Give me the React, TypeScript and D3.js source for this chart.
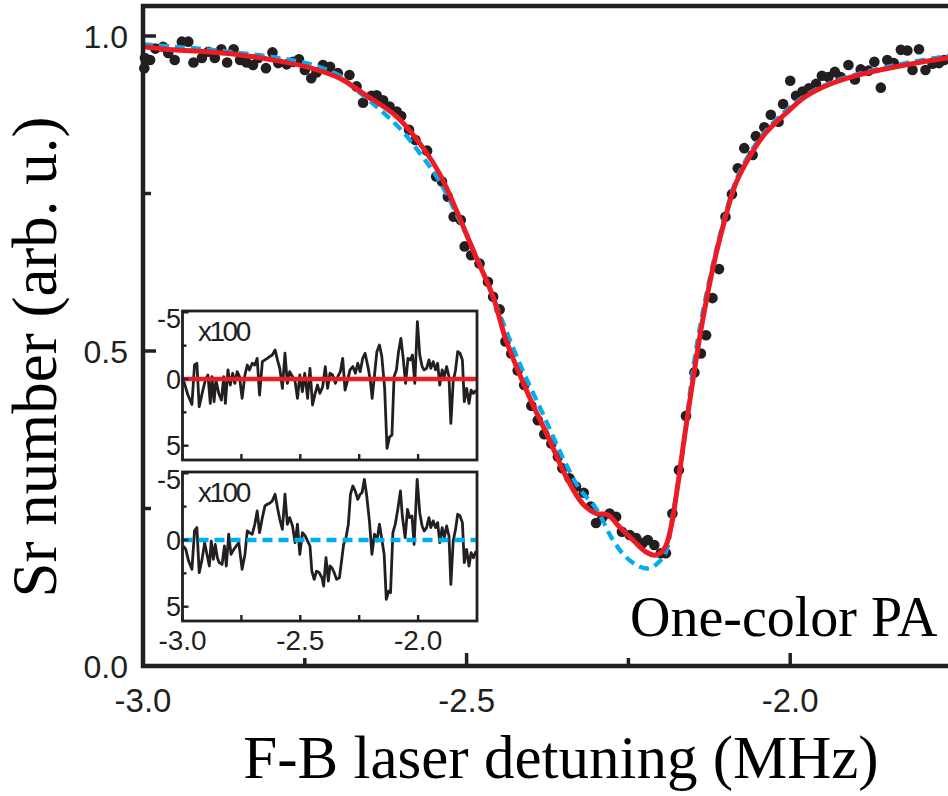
import React from 'react';
import * as d3 from 'd3';

// Measured Sr number vs F-B laser detuning (MHz)
const measured: [number, number][] = [
  [-2.997, 0.965], [-2.998, 0.949], [-2.989, 0.962], [-2.981, 0.98], [-2.969, 0.983], [-2.961, 0.973],
  [-2.951, 0.962], [-2.94, 0.991], [-2.93, 0.991], [-2.922, 0.958], [-2.909, 0.965], [-2.899, 0.975],
  [-2.889, 0.965], [-2.879, 0.979], [-2.87, 0.958], [-2.86, 0.979], [-2.85, 0.962], [-2.84, 0.958],
  [-2.83, 0.954], [-2.822, 0.965], [-2.81, 0.949], [-2.8, 0.974], [-2.791, 0.957], [-2.778, 0.955],
  [-2.768, 0.959], [-2.759, 0.963], [-2.75, 0.946], [-2.74, 0.933], [-2.732, 0.942], [-2.722, 0.954],
  [-2.711, 0.951], [-2.699, 0.941], [-2.681, 0.938], [-2.67, 0.92], [-2.66, 0.894], [-2.647, 0.905],
  [-2.639, 0.906], [-2.629, 0.898], [-2.619, 0.888], [-2.608, 0.88], [-2.601, 0.873], [-2.589, 0.851],
  [-2.579, 0.835], [-2.561, 0.818], [-2.547, 0.777], [-2.538, 0.769], [-2.529, 0.745], [-2.52, 0.713],
  [-2.509, 0.708], [-2.503, 0.666], [-2.493, 0.652], [-2.48, 0.639], [-2.467, 0.61], [-2.459, 0.586],
  [-2.449, 0.566], [-2.44, 0.515], [-2.431, 0.496], [-2.421, 0.469], [-2.411, 0.446], [-2.4, 0.413],
  [-2.39, 0.39], [-2.38, 0.368], [-2.369, 0.353], [-2.359, 0.332], [-2.352, 0.314], [-2.341, 0.298],
  [-2.331, 0.285], [-2.319, 0.275], [-2.308, 0.253], [-2.3, 0.227], [-2.29, 0.236], [-2.279, 0.242],
  [-2.269, 0.237], [-2.26, 0.213], [-2.248, 0.208], [-2.238, 0.203], [-2.228, 0.195], [-2.22, 0.2],
  [-2.21, 0.192], [-2.2, 0.179], [-2.192, 0.179], [-2.182, 0.242], [-2.172, 0.311], [-2.161, 0.397],
  [-2.148, 0.466], [-2.138, 0.496], [-2.13, 0.525], [-2.12, 0.584], [-2.11, 0.63], [-2.1, 0.713],
  [-2.09, 0.749], [-2.081, 0.79], [-2.071, 0.822], [-2.058, 0.811], [-2.053, 0.841], [-2.04, 0.855],
  [-2.03, 0.875], [-2.018, 0.864], [-2.011, 0.892], [-2.0, 0.929], [-1.991, 0.905], [-1.981, 0.912],
  [-1.971, 0.917], [-1.96, 0.924], [-1.951, 0.937], [-1.941, 0.935], [-1.931, 0.943], [-1.922, 0.935],
  [-1.91, 0.954], [-1.9, 0.931], [-1.891, 0.947], [-1.879, 0.945], [-1.87, 0.959], [-1.86, 0.918],
  [-1.85, 0.962], [-1.84, 0.957], [-1.829, 0.978], [-1.819, 0.977], [-1.811, 0.946], [-1.801, 0.979],
  [-1.791, 0.946], [-1.78, 0.956], [-1.77, 0.957], [-1.762, 0.962],
];

// Red solid fit
const fitRed: [number, number][] = [
  [-3.0, 0.983], [-2.953, 0.978], [-2.902, 0.975], [-2.85, 0.97], [-2.799, 0.962], [-2.747, 0.951],
  [-2.696, 0.933], [-2.66, 0.909], [-2.608, 0.872], [-2.567, 0.822], [-2.542, 0.782], [-2.516, 0.724],
  [-2.49, 0.66], [-2.459, 0.586], [-2.439, 0.517], [-2.403, 0.427], [-2.372, 0.359], [-2.346, 0.3],
  [-2.321, 0.258], [-2.3, 0.242], [-2.282, 0.24], [-2.264, 0.221], [-2.243, 0.2], [-2.223, 0.181],
  [-2.207, 0.176], [-2.194, 0.187], [-2.184, 0.221], [-2.174, 0.285], [-2.164, 0.359], [-2.151, 0.449],
  [-2.138, 0.533], [-2.12, 0.629], [-2.104, 0.697], [-2.084, 0.766], [-2.063, 0.808], [-2.038, 0.846],
  [-2.007, 0.877], [-1.976, 0.904], [-1.935, 0.925], [-1.883, 0.941], [-1.822, 0.954], [-1.758, 0.965],
  [-1.75, 0.966],
];

// Blue dashed fit
const fitBlue: [number, number][] = [
  [-3.0, 0.987], [-2.953, 0.983], [-2.902, 0.979], [-2.85, 0.973], [-2.789, 0.965], [-2.737, 0.954],
  [-2.696, 0.937], [-2.678, 0.921], [-2.637, 0.886], [-2.601, 0.851], [-2.57, 0.811], [-2.542, 0.77],
  [-2.516, 0.718], [-2.49, 0.662], [-2.475, 0.627], [-2.459, 0.585], [-2.418, 0.48], [-2.382, 0.4],
  [-2.351, 0.33], [-2.326, 0.282], [-2.3, 0.25], [-2.274, 0.2], [-2.254, 0.173], [-2.233, 0.158],
  [-2.218, 0.155], [-2.205, 0.163], [-2.192, 0.181], [-2.182, 0.237], [-2.171, 0.306], [-2.161, 0.38],
  [-2.151, 0.465], [-2.138, 0.546], [-2.12, 0.635], [-2.104, 0.702], [-2.084, 0.77], [-2.063, 0.813],
  [-2.038, 0.849], [-2.007, 0.881], [-1.976, 0.906], [-1.935, 0.927], [-1.883, 0.943], [-1.822, 0.957],
  [-1.758, 0.968], [-1.75, 0.969],
];

// Residuals x100 (upper inset, red fit)
const residualRed: [number, number][] = [
  [-2.996, 0.08], [-2.977, 1.2], [-2.96, 1.9], [-2.949, -1.05], [-2.939, -1.18], [-2.929, 2.08],
  [-2.915, 0.95], [-2.903, 0.08], [-2.892, -0.3], [-2.882, 1.83], [-2.875, -0.18], [-2.866, 1.7],
  [-2.858, 0.08], [-2.846, 1.08], [-2.835, 1.58], [-2.825, -0.18], [-2.818, 1.83], [-2.807, -0.68],
  [-2.797, 0.45], [-2.787, -0.43], [-2.778, 0.33], [-2.768, -0.55], [-2.758, -0.18], [-2.747, 1.45],
  [-2.735, -0.3], [-2.725, -1.05], [-2.716, -0.68], [-2.704, -1.18], [-2.693, -1.05], [-2.683, -1.55],
  [-2.673, 1.2], [-2.661, -1.3], [-2.65, -1.43], [-2.64, -1.55], [-2.63, -1.68], [-2.619, -1.8],
  [-2.607, -2.18], [-2.597, -1.43], [-2.587, -0.8], [-2.576, 0.7], [-2.565, -1.93], [-2.555, 0.33],
  [-2.545, -0.55], [-2.533, -0.18], [-2.522, 0.2], [-2.512, 1.45], [-2.502, -0.3], [-2.491, 0.95],
  [-2.481, -0.43], [-2.469, 1.45], [-2.459, -0.8], [-2.448, 1.95], [-2.437, 1.08], [-2.427, 0.45],
  [-2.417, 1.08], [-2.405, 0.58], [-2.394, -0.93], [-2.384, 0.7], [-2.374, -0.43], [-2.363, -0.3],
  [-2.351, 0.33], [-2.341, -0.18], [-2.33, -0.55], [-2.32, -1.55], [-2.31, 0.83], [-2.299, 0.08],
  [-2.289, -0.68], [-2.277, -0.93], [-2.266, -0.43], [-2.256, -1.18], [-2.246, -0.55], [-2.235, -1.55],
  [-2.225, -1.93], [-2.213, -0.93], [-2.203, 0.08], [-2.195, 1.45], [-2.185, -0.3], [-2.175, -2.05],
  [-2.164, -2.55], [-2.154, -1.68], [-2.142, 0.7], [-2.132, 5.2], [-2.121, 4.33], [-2.111, 4.2],
  [-2.102, -0.18], [-2.092, -0.68], [-2.083, -2.05], [-2.073, -3.05], [-2.064, -1.68], [-2.053, 0.33],
  [-2.043, -1.55], [-2.033, -1.43], [-2.024, -1.8], [-2.014, 0.33], [-2.003, -4.3], [-1.993, -1.8],
  [-1.983, -0.93], [-1.974, -0.68], [-1.964, -0.8], [-1.954, -1.43], [-1.946, -0.8], [-1.936, -1.3],
  [-1.926, -0.68], [-1.917, -1.18], [-1.908, 0.45], [-1.898, -0.68], [-1.889, -0.18], [-1.879, -0.93],
  [-1.869, -0.18], [-1.861, 3.33], [-1.851, 0.2], [-1.841, -0.68], [-1.832, -2.05], [-1.822, -1.93],
  [-1.812, -1.43], [-1.804, 1.7], [-1.794, 0.7], [-1.784, 1.83], [-1.775, 0.83], [-1.765, 1.08],
  [-1.754, 0.83],
];

// Residuals x100 (lower inset, blue fit)
const residualBlue: [number, number][] = [
  [-2.996, 0.45], [-2.986, 0.7], [-2.974, 1.58], [-2.96, 2.2], [-2.949, -0.68], [-2.939, -0.93],
  [-2.929, 2.45], [-2.917, 1.45], [-2.906, 0.2], [-2.896, 1.08], [-2.886, 1.95], [-2.878, 0.08],
  [-2.869, 1.45], [-2.861, 0.33], [-2.852, 1.33], [-2.844, 1.7], [-2.832, 1.83], [-2.822, 0.45],
  [-2.814, 1.95], [-2.804, -0.43], [-2.794, 1.08], [-2.782, 0.7], [-2.772, 0.45], [-2.761, 0.2],
  [-2.747, 2.2], [-2.735, 1.08], [-2.725, -0.68], [-2.716, -0.55], [-2.704, -0.43], [-2.693, -1.18],
  [-2.683, -2.18], [-2.673, -0.55], [-2.661, -1.68], [-2.65, -2.55], [-2.64, -2.68], [-2.63, -2.75],
  [-2.619, -2.93], [-2.607, -3.43], [-2.597, -2.43], [-2.587, -1.55], [-2.576, -0.8], [-2.565, -3.43],
  [-2.555, -1.18], [-2.545, -1.68], [-2.533, -1.05], [-2.522, 0.2], [-2.512, -1.18], [-2.502, 1.08],
  [-2.491, -0.55], [-2.479, -0.3], [-2.469, 0.08], [-2.459, 0.45], [-2.451, 2.33], [-2.441, 2.95],
  [-2.431, 2.33], [-2.42, 2.45], [-2.408, 2.83], [-2.401, 3.45], [-2.391, 1.33], [-2.381, 3.08],
  [-2.374, 1.95], [-2.366, 2.08], [-2.356, 2.45], [-2.346, 2.95], [-2.334, 2.83], [-2.324, 1.45],
  [-2.316, 0.33], [-2.306, -0.18], [-2.296, -1.18], [-2.287, -3.43], [-2.277, -4.05], [-2.267, -3.68],
  [-2.256, -3.05], [-2.246, -3.43], [-2.238, -3.55], [-2.228, -4.55], [-2.218, -3.3], [-2.206, -1.3],
  [-2.196, 1.08], [-2.185, -0.43], [-2.175, 0.08], [-2.164, -1.18], [-2.154, -0.05], [-2.144, 1.08],
  [-2.135, 4.45], [-2.125, 3.83], [-2.117, 3.95], [-2.107, -0.55], [-2.097, -1.18], [-2.085, -2.43],
  [-2.075, -3.68], [-2.067, -1.8], [-2.055, -0.18], [-2.045, -2.3], [-2.036, -1.68], [-2.026, -1.8],
  [-2.017, 0.33], [-2.004, -4.55], [-1.993, -2.05], [-1.983, -1.05], [-1.974, -0.68], [-1.964, -0.93],
  [-1.954, -1.68], [-1.946, -0.93], [-1.936, -1.43], [-1.926, -0.93], [-1.917, -1.3], [-1.908, 0.2],
  [-1.898, -0.93], [-1.889, -0.18], [-1.879, -1.05], [-1.869, -0.3], [-1.861, 3.33], [-1.851, 0.08],
  [-1.841, -0.8], [-1.832, -1.93], [-1.822, -1.8], [-1.812, -1.3], [-1.804, 1.7], [-1.794, 0.7],
  [-1.784, 1.95], [-1.775, 0.95], [-1.765, 1.33], [-1.754, 0.83],
];

const mainXTicks = [-3.0, -2.5, -2.0];
const mainXMinor = [-2.75, -2.25, -1.75];
const mainYTicks = [0.0, 0.5, 1.0];
const mainYMinor = [0.25, 0.75];
const insetXTicks = [-3.0, -2.5, -2.0];
const insetXMinor = [-2.75, -2.25];
const insetYTicks = [-5, 0, 5];
const insetYMinor = [-2.5, 2.5];

const INK = '#231f20';
const RED = '#ed1c24';
const BLUE = '#00aeef';
const SANS = 'Liberation Sans, Arial, Helvetica, sans-serif';
const SERIF = 'Liberation Serif, Times New Roman, serif';

const fmt = (t: number) => d3.format('.1f')(t).replace('\u2212', '-');

export default function App() {
  const W = 948;
  const H = 796;
  const x = d3.scaleLinear().domain([-3, -1.75]).range([143, 952]);
  const y = d3.scaleLinear().domain([0, 1]).range([666, 36]);
  const xi = d3.scaleLinear().domain([-3, -1.75]).range([182.5, 477]);

  const fitLine = d3
    .line<[number, number]>()
    .x((d) => x(d[0]))
    .y((d) => y(d[1]))
    .curve(d3.curveCatmullRom.alpha(0.5));

  const insets = [
    {
      top: 311,
      bottom: 460,
      yi: d3.scaleLinear().domain([-5, 5]).range([312.3, 445.7]),
      res: residualRed,
      color: RED,
      dash: undefined as string | undefined,
      showX: false,
    },
    {
      top: 472,
      bottom: 621,
      yi: d3.scaleLinear().domain([-5, 5]).range([473.3, 606.7]),
      res: residualBlue,
      color: BLUE,
      dash: '10,6',
      showX: true,
    },
  ];
  const [ixL, ixR] = xi.range();

  return (
    <svg
      width={W}
      height={H}
      viewBox={`0 0 ${W} ${H}`}
      style={{ position: 'absolute', left: 0, top: 0, display: 'block', background: '#fff' }}
    >
      <rect x={0} y={0} width={W} height={H} fill="#fff" />

      {/* data points */}
      <g fill={INK}>
        {measured.map((d, i) => (
          <circle key={i} cx={x(d[0])} cy={y(d[1])} r={5.3} />
        ))}
      </g>

      {/* fits */}
      <path d={fitLine(fitBlue) || ''} fill="none" stroke={BLUE} strokeWidth={4.3} strokeDasharray="10,6" />
      <path d={fitLine(fitRed) || ''} fill="none" stroke={RED} strokeWidth={5} />

      {/* main axes */}
      <g stroke={INK} strokeLinecap="butt">
        <line x1={143} x2={143} y1={4} y2={668} strokeWidth={4.5} />
        <line x1={141} x2={W} y1={6} y2={6} strokeWidth={4.5} />
        <line x1={141} x2={W} y1={666} y2={666} strokeWidth={4.5} />
        {mainXTicks.map((t) => (
          <line key={'xt' + t} x1={x(t)} x2={x(t)} y1={666} y2={653} strokeWidth={3.5} />
        ))}
        {mainXMinor.map((t) => (
          <line key={'xm' + t} x1={x(t)} x2={x(t)} y1={666} y2={658} strokeWidth={3.5} />
        ))}
        {mainYTicks.map((t) => (
          <line key={'yt' + t} x1={143} x2={156} y1={y(t)} y2={y(t)} strokeWidth={3.5} />
        ))}
        {mainYMinor.map((t) => (
          <line key={'ym' + t} x1={143} x2={151} y1={y(t)} y2={y(t)} strokeWidth={3.5} />
        ))}
      </g>
      <g fill={INK} fontFamily={SANS} fontSize={32}>
        {mainYTicks.map((t) => (
          <text key={'yl' + t} x={128} y={y(t)} dy="0.36em" textAnchor="end">
            {fmt(t)}
          </text>
        ))}
        {mainXTicks.map((t) => (
          <text key={'xl' + t} x={x(t)} y={712} textAnchor="middle" fontSize={33}>
            {fmt(t)}
          </text>
        ))}
      </g>

      {/* insets */}
      {insets.map((ins, k) => {
        const resLine = d3
          .line<[number, number]>()
          .x((d) => xi(d[0]))
          .y((d) => ins.yi(d[1]));
        return (
          <g key={'inset' + k}>
            <rect x={ixL} y={ins.top} width={ixR - ixL} height={ins.bottom - ins.top} fill="#fff" />
            <path d={resLine(ins.res) || ''} fill="none" stroke={INK} strokeWidth={2.8} strokeLinejoin="round" />
            <line
              x1={ixL}
              x2={ixR}
              y1={ins.yi(0)}
              y2={ins.yi(0)}
              stroke={ins.color}
              strokeWidth={4.3}
              strokeDasharray={ins.dash}
            />
            <rect
              x={ixL}
              y={ins.top}
              width={ixR - ixL}
              height={ins.bottom - ins.top}
              fill="none"
              stroke={INK}
              strokeWidth={2.8}
            />
            <g stroke={INK} strokeWidth={2.4}>
              {insetXTicks.concat(insetXMinor).map((t) => (
                <line key={'ixt' + t} x1={xi(t)} x2={xi(t)} y1={ins.bottom} y2={ins.bottom - 6} />
              ))}
              {insetYTicks.map((t) => (
                <line key={'iyt' + t} x1={ixL} x2={ixL + 6} y1={ins.yi(t)} y2={ins.yi(t)} />
              ))}
              {insetYMinor.map((t) => (
                <line key={'iym' + t} x1={ixL} x2={ixL + 4} y1={ins.yi(t)} y2={ins.yi(t)} />
              ))}
            </g>
            <g fill={INK} fontFamily={SANS} fontSize={27}>
              {insetYTicks.map((t) => (
                <text
                  key={'iyl' + t}
                  x={181}
                  y={ins.yi(t) + (t < 0 ? 6 : 0)}
                  dy="0.36em"
                  textAnchor="end"
                >
                  {String(t)}
                </text>
              ))}
              <text x={198} y={ins.top + 30} fontSize={28} letterSpacing={-2.5}>
                x100
              </text>
            </g>
            {ins.showX && (
              <g fill={INK} fontFamily={SANS} fontSize={28}>
                {insetXTicks.map((t) => (
                  <text key={'ixl' + t} x={xi(t)} y={650} textAnchor="middle">
                    {fmt(t)}
                  </text>
                ))}
              </g>
            )}
          </g>
        );
      })}

      {/* annotations and titles */}
      <text x={630} y={636} fontFamily={SERIF} fontSize={56} fill="#000">
        One-color PA
      </text>
      <text x={561} y={778} fontFamily={SERIF} fontSize={61} fill="#000" textAnchor="middle">
        F-B laser detuning (MHz)
      </text>
      <text
        transform="translate(56,357) rotate(-90)"
        fontFamily={SERIF}
        fontSize={63}
        fill="#000"
        textAnchor="middle"
      >
        Sr number (arb. u.)
      </text>
    </svg>
  );
}
